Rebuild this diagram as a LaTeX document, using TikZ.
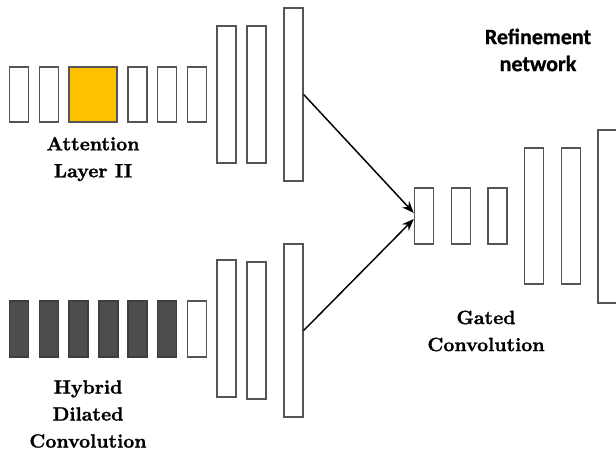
\documentclass[tikz,border=0pt]{standalone}
\usepackage{fontspec}
\newfontfamily\serfont{lmroman10-regular}[Extension=.otf,UprightFont=lmroman10-regular,BoldFont=lmroman10-bold,BoldFeatures={FakeBold=1.2}]
\newfontfamily\calfont{Carlito}[BoldFont={Carlito Bold},BoldFeatures={FakeBold=0.8}]
\usetikzlibrary{arrows.meta,calc}
\definecolor{attn}{HTML}{FFC000}
\definecolor{hdc}{HTML}{4D4D4D}
\definecolor{edge}{HTML}{555555}
\begin{document}
\begin{tikzpicture}[x=0.75pt,y=-0.75pt,
  blk/.style={draw=edge,line width=1.1pt,fill=white,inner sep=0pt,minimum width=14.2pt},
  lbl/.style={font=\serfont\fontsize{14.4}{20.25}\selectfont\bfseries,align=center,inner sep=0pt,text=black},
  conn/.style={draw=black,line width=1.1pt,-{Stealth[length=9pt,width=7pt]}}]
\useasboundingbox (0,0) rectangle (616,456);
% top branch
\foreach \n/\x in {t1/19,t2/48.8,t4/137.5,t5/167,t6/196.8}
  \node[blk,minimum height=41.25pt] (\n) at (\x,94.5) {};
\node[blk,fill=attn,minimum width=36pt,minimum height=41.25pt] (ta) at (93,94.5) {};
\node[blk,minimum height=102.75pt] (T1) at (226.5,94.5) {};
\node[blk,minimum height=102.75pt] (T2) at (256.5,94.5) {};
\node[blk,minimum height=129.75pt] (T3) at (293.5,94.5) {};
% bottom branch
\foreach \n/\x in {b1/19,b2/48.8,b3/78.5,b4/108.5,b5/137.5,b6/167}
  \node[blk,fill=hdc,draw=hdc!80!black,minimum height=42pt] (\n) at (\x,329) {};
\node[blk,minimum height=42pt] (b7) at (196.8,329) {};
\node[blk,minimum height=102.75pt] (B1) at (226.5,328.5) {};
\node[blk,minimum height=102.75pt] (B2) at (256.5,330.5) {};
\node[blk,minimum height=129.75pt] (B3) at (293.5,330.5) {};
% refinement network
\node[blk,minimum height=42pt] (g1) at (424,216) {};
\node[blk,minimum height=42pt] (g2) at (461,216) {};
\node[blk,minimum height=42pt] (g3) at (497.5,216) {};
\node[blk,minimum height=102pt] (R1) at (534,216) {};
\node[blk,minimum height=102pt] (R2) at (571,216) {};
\node[blk,minimum width=15pt,minimum height=129.75pt] (R3) at (608,216.5) {};
% connectors
\draw[conn] (T3.east) -- ($(g1.west)+(0,-3)$);
\draw[conn] (B3.east) -- ($(g1.west)+(0,3)$);
% labels
\node[lbl] (la) at (93,159) {Attention\\Layer II};
\node[lbl] (lh) at (88,414) {Hybrid\\Dilated\\Convolution};
\node[lbl,font=\calfont\fontsize{16.5}{20.25}\selectfont\bfseries] (lr) at (538,50) {Refinement\\network};
\node[lbl] (lg) at (486,331) {Gated\\Convolution};
\end{tikzpicture}
\end{document}
